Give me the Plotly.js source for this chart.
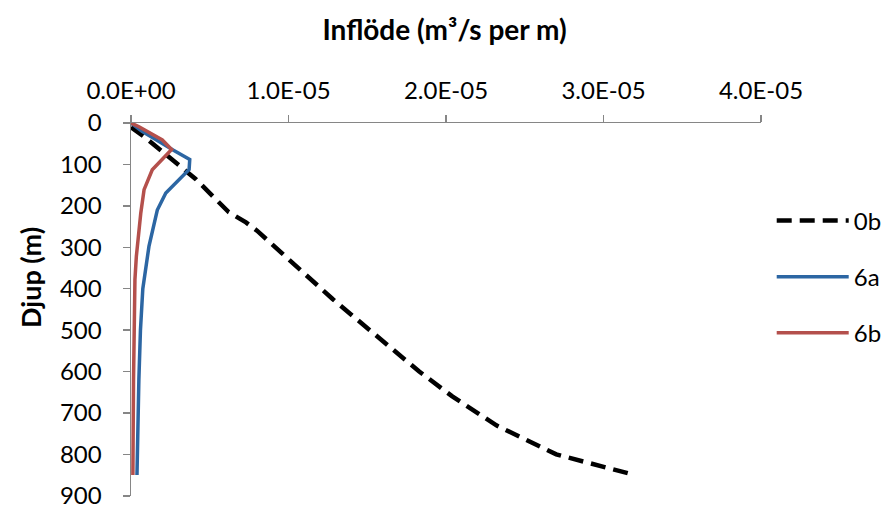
<!DOCTYPE html>
<html>
<head>
<meta charset="utf-8">
<script src="https://cdn.plot.ly/plotly-3.0.1.min.js"></script>
<style>html,body{margin:0;padding:0;background:#fff;}#chart{width:884px;height:508px;}</style>
</head>
<body>
<div id="chart"></div>
<script>
// Series names
const seriesNames = ["0b", "6a", "6b"];

// 0b (black dashed): depth (m) and inflow (m3/s per m)
const depth0b = [10, 35, 135, 215, 240, 260, 425, 540, 600, 660, 730, 800, 850];
const flow0b  = [0.0e-6, 0.9e-6, 4.1e-6, 6.2e-6, 7.3e-6, 8.0e-6, 12.8e-6, 16.4e-6, 18.3e-6, 20.4e-6, 23.2e-6, 27.0e-6, 32.0e-6];

// 6a (blue)
const depth6a = [0, 20, 65, 88, 112, 137, 169, 210, 298, 400, 500, 620, 720, 850];
const flow6a  = [0, 0.7e-6, 2.67e-6, 3.73e-6, 3.69e-6, 3.05e-6, 2.21e-6, 1.67e-6, 1.14e-6, 0.75e-6, 0.6e-6, 0.5e-6, 0.43e-6, 0.38e-6];

// 6b (red)
const depth6b = [0, 9, 41, 64, 113, 161, 218, 322, 378, 500, 620, 850];
const flow6b  = [0, 0.51e-6, 1.99e-6, 2.58e-6, 1.35e-6, 0.83e-6, 0.62e-6, 0.34e-6, 0.25e-6, 0.2e-6, 0.16e-6, 0.12e-6];

// Axis ticks
const xTickVals = [0, 1e-5, 2e-5, 3e-5, 4e-5];
const xTickText = ["0.0E+00", "1.0E-05", "2.0E-05", "3.0E-05", "4.0E-05"];
const yTickVals = [0, 100, 200, 300, 400, 500, 600, 700, 800, 900];

const FONT = "Lato, 'Open Sans', sans-serif";
const AXC = "#868686";

const traces = [
  {x: flow0b, y: depth0b, name: seriesNames[0], legendgroup: "a", mode: "lines",
   line: {color: "#000000", width: 4.5, dash: "15px,8px"}},
  {x: flow6a, y: depth6a, name: seriesNames[1], legendgroup: "b", mode: "lines",
   line: {color: "#2C66A3", width: 3.5}},
  {x: flow6b, y: depth6b, name: seriesNames[2], legendgroup: "c", mode: "lines",
   line: {color: "#B4504C", width: 3.5}}
];

const layout = {
  width: 884, height: 508,
  margin: {l: 131, r: 123, t: 123, b: 12, autoexpand: false},
  paper_bgcolor: "#fff", plot_bgcolor: "#fff",
  font: {family: FONT, color: "#000"},
  title: {text: "Inflöde (m³/s per m)", font: {family: FONT, size: 28, weight: 700, color: "#000"},
          x: 440/884, xref: "paper", xanchor: "center", y: 1 - 30/508, yanchor: "middle"},
  xaxis: {
    range: [0, 4e-5], side: "top", tickvals: xTickVals, ticktext: xTickText,
    ticks: "outside", ticklen: 7, tickwidth: 1.5, tickcolor: AXC,
    showline: true, linecolor: AXC, linewidth: 1.5,
    showgrid: false, zeroline: false, ticklabelstandoff: 6,
    tickfont: {family: FONT, size: 24, color: "#000"}
  },
  yaxis: {
    range: [900.5, 0], tickvals: yTickVals,
    ticks: "outside", ticklen: 7, tickwidth: 1.5, tickcolor: AXC,
    showline: true, linecolor: AXC, linewidth: 1.5,
    showgrid: false, zeroline: false, ticklabelstandoff: 16,
    ticklabeloverflow: "allow",
    tickfont: {family: FONT, size: 24, color: "#000"}
  },
  showlegend: true,
  legend: {x: 1.017, xanchor: "left", y: 0.798, yanchor: "top",
           font: {family: FONT, size: 24, color: "#000"},
           tracegroupgap: 22, itemwidth: 72, bgcolor: "rgba(0,0,0,0)"},
  annotations: [
    {text: "Djup (m)", textangle: -90, xref: "paper", yref: "paper",
     x: (30 - 131) / 630, y: (496 - 277) / 373, xanchor: "center", yanchor: "middle",
     showarrow: false, font: {family: FONT, size: 27, weight: 700, color: "#000"}}
  ]
};

Plotly.newPlot("chart", traces, layout, {displayModeBar: false, staticPlot: true});
</script>
</body>
</html>
